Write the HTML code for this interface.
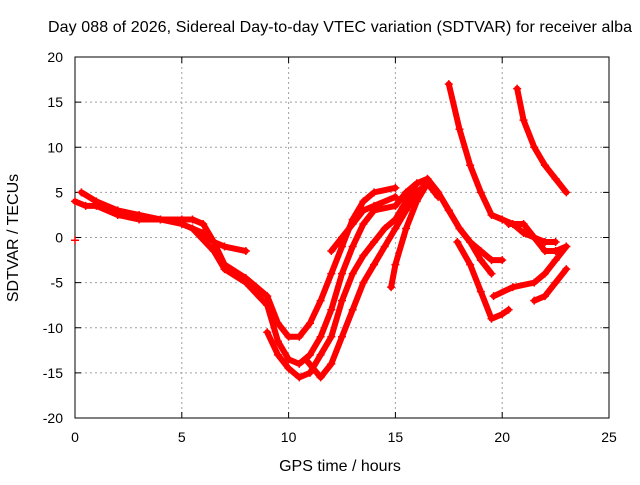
<!DOCTYPE html>
<html><head><meta charset="utf-8"><style>
body{margin:0;background:#fff}
svg text{font-family:"Liberation Sans",sans-serif;font-size:14px;fill:#000}
svg text.big{font-size:16px}
</style></head><body>
<svg id="chart" width="640" height="480" xmlns="http://www.w3.org/2000/svg">
<rect width="640" height="480" fill="#fff"/>
<g id="grid"></g>
<g id="axes"></g>
<g id="series"></g>
<text class="big" x="340" y="32" text-anchor="middle" textLength="584">Day 088 of 2026, Sidereal Day-to-day VTEC variation (SDTVAR) for receiver alba</text>
<text class="big" x="340" y="471" text-anchor="middle">GPS time / hours</text>
<text class="big" x="0" y="0" text-anchor="middle" transform="translate(18,238) rotate(-90)">SDTVAR / TECUs</text>
</svg>
<script>
const xTicks=[0,5,10,15,20,25];
const yTicks=[-20,-15,-10,-5,0,5,10,15,20];
const t1=[[0,4],[0.5,3.5],[1,3.5],[2,2.5],[3,2],[4,2],[5,1.5],[6,0.5],[6.5,-0.5],[7,-1],[8,-1.5]];
const t2=[[0.3,5],[1,4],[2,3],[3,2.5],[4,2],[5,2],[5.5,2],[6,1.5],[6.5,-0.5],[7,-3],[8,-4.5],[9,-6.5],[9.5,-9.5],[10,-11],[10.5,-11],[11,-9.5],[11.5,-7],[12,-4],[12.5,-1],[13,2],[13.5,4],[14,5],[15,5.5]];
const t3=[[5.5,1],[6.5,-1.5],[7,-3.5],[8,-5],[9,-7.5],[9.5,-11.5],[10,-13.5],[10.5,-14],[11,-13],[11.5,-11],[12,-8],[12.5,-4],[13,-1],[13.5,1.5],[14,3],[15,3.5],[15.5,5],[16,6],[16.5,6.5],[17,5],[17.5,3],[18,1],[18.5,-0.5],[19,-1.5],[19.5,-2.5],[20,-2.5]];
const t4=[[9,-10.5],[9.5,-13],[10,-14.5],[10.5,-15.5],[11,-15],[11.5,-13],[12,-11],[12.5,-7],[13,-4],[13.5,-2],[14,-0.5],[14.5,1],[15,2],[15.5,4],[16,6],[16.5,6.5],[17,5],[17.5,3],[18,1],[18.5,-0.5],[19,-2.5],[19.5,-4]];
const t5=[[10.8,-13.5],[11.5,-15.5],[12,-14],[12.5,-11],[13,-8],[13.5,-5],[14,-3],[14.5,-1],[15,1],[15.5,3],[16,5],[16.5,6],[17,4.5]];
const t6=[[12,-1.5],[12.5,0],[13,1.5],[13.5,3],[14,3.5],[15,4.5]];
const t7=[[14.8,-5.5],[15,-3],[15.5,1],[16,4],[16.5,6]];
const t8=[[17.5,17],[18,12],[18.5,8],[19,5],[19.5,2.5],[20,2],[20.5,1.5],[21,0.5],[21.5,0],[22,-0.5],[22.5,-0.5]];
const t9=[[17.9,-0.5],[18.5,-3],[19,-6],[19.5,-9],[20,-8.5],[20.3,-8]];
const t10=[[20.7,16.5],[21,13],[21.5,10],[22,8],[22.5,6.5],[23,5]];
const t11=[[19.6,-6.5],[20.5,-5.5],[21.5,-5],[22,-4],[22.5,-2.5],[23,-1]];
const t12=[[20.3,1.5],[21,1.5],[21.5,0],[22,-1.5],[22.5,-1.5],[23,-1]];
const t13=[[21.5,-7],[22,-6.5],[22.5,-5],[23,-3.5]];
const t14=[[0,-0.3]];
const seriesList=[t1,t2,t3,t4,t5,t6,t7,t8,t9,t10,t11,t12,t13,t14];
const X0=75,X1=609,Y0=418,Y1=57;
const xs=v=>X0+(v-0)/(25-0)*(X1-X0);
const ys=v=>Y0-(v+20)/40*(Y0-Y1);
const NS="http://www.w3.org/2000/svg";
function mk(tag,attrs,parent){const e=document.createElementNS(NS,tag);for(const k in attrs)e.setAttribute(k,attrs[k]);parent.appendChild(e);return e;}
const grid=document.getElementById('grid'),axes=document.getElementById('axes'),ser=document.getElementById('series');
xTicks.forEach(t=>{const x=xs(t);
 if(t>0&&t<25){const l=mk('line',{x1:x,y1:Y1,x2:x,y2:Y0,stroke:'#a0a0a0','stroke-dasharray':'2,3'},grid);
 
 }
 mk('line',{x1:x,y1:Y0,x2:x,y2:Y0-6,stroke:'#000'},axes);
 mk('line',{x1:x,y1:Y1,x2:x,y2:Y1+6,stroke:'#000'},axes);
 const tx=mk('text',{x:x,y:Y0+24,'text-anchor':'middle'},axes);tx.textContent=t;
 
 });
yTicks.forEach(t=>{const y=ys(t);
 if(t>-20&&t<20){const l=mk('line',{x1:X0,y1:y,x2:X1,y2:y,stroke:'#a0a0a0','stroke-dasharray':'2,3'},grid);
 
 }
 mk('line',{x1:X0,y1:y,x2:X0+6,y2:y,stroke:'#000'},axes);
 mk('line',{x1:X1,y1:y,x2:X1-6,y2:y,stroke:'#000'},axes);
 const tx=mk('text',{x:X0-12,y:y+5,'text-anchor':'end'},axes);tx.textContent=t;
 
 });
const fr=mk('rect',{x:X0,y:Y1,width:X1-X0,height:Y0-Y1,fill:'none',stroke:'#000'},axes);


seriesList.forEach((s,i)=>{
 if(s.length>1){const p=mk('polyline',{points:s.map(d=>xs(d[0])+','+ys(d[1])).join(' '),fill:'none',stroke:'#f00','stroke-width':6,'stroke-linejoin':'round','stroke-linecap':'round'},ser);
 
 }
 s.forEach(d=>{const x=xs(d[0]),y=ys(d[1]);
 const m=mk('path',{d:`M${x-4},${y}H${x+4}M${x},${y-4}V${y+4}`,stroke:'#f00','stroke-width':1.5},ser);
 
 });
});
</script>
</body></html>
